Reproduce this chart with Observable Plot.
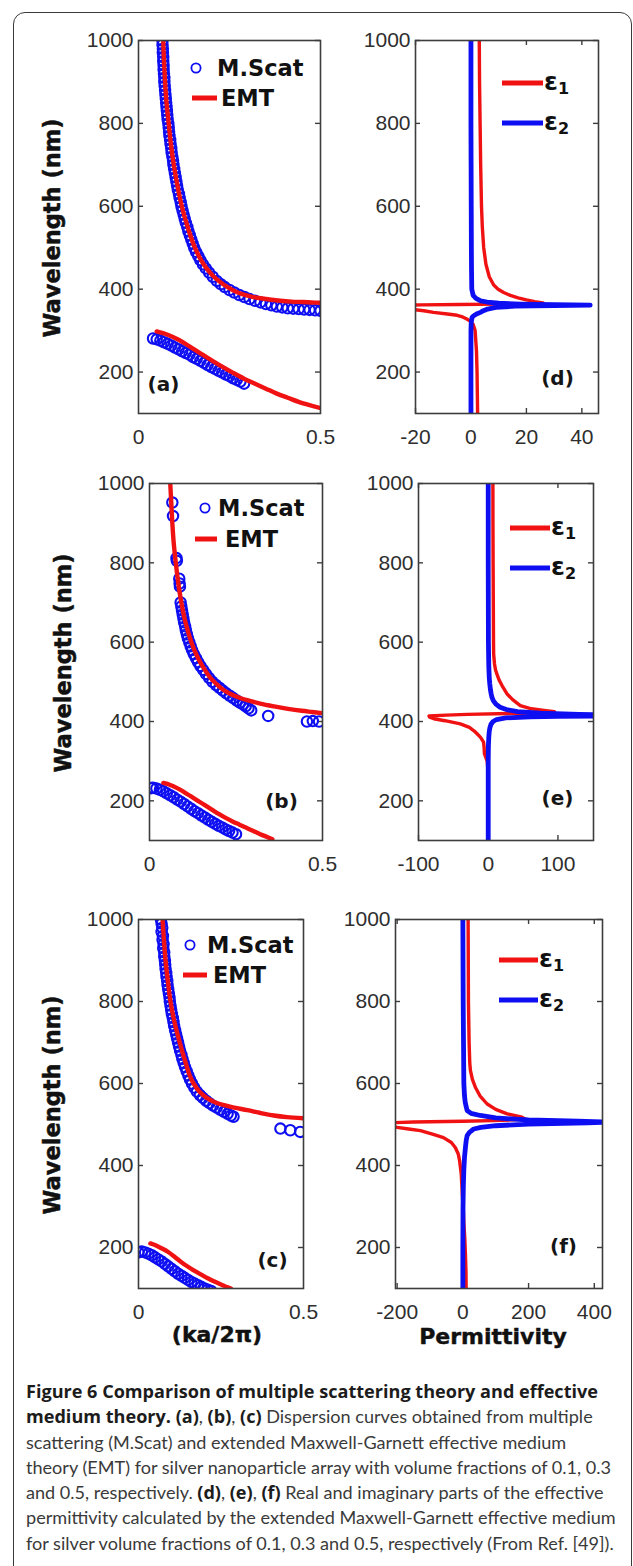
<!DOCTYPE html>
<html>
<head>
<meta charset="utf-8">
<script src="https://cdn.jsdelivr.net/npm/d3@7"></script>
<script src="https://cdn.jsdelivr.net/npm/@observablehq/plot@0.6"></script>
<style>
  html, body { margin: 0; padding: 0; background: #fff; }
  #page { position: relative; width: 633px; height: 1566px; overflow: hidden; background: #fff; }
  .box { position: absolute; left: 13px; top: 12px; width: 619px; height: 1620px;
         border: 1.4px solid #3a3a3a; border-radius: 12px; box-sizing: border-box; }
  .panel { position: absolute; }
  #caption { position: absolute; left: 26px; top: 1379px; font-family: Lato, "Open Sans", sans-serif;
             font-size: 18px; line-height: 25.3px; color: #3a3a3a; }
  #caption .ln { white-space: nowrap; }
  #caption .ln span { display: inline-block; }
  #caption b { color: #1c1c1c; font-weight: 700; font-family: "Open Sans", Lato, sans-serif; }
</style>
</head>
<body>
<div id="page">
  <div class="box"></div>
  <div id="caption">
    <div class="ln"><span><b>Figure 6 Comparison of multiple scattering theory and effective</b></span></div>
    <div class="ln"><span><b>medium theory. (a)</b>, <b>(b)</b>, <b>(c)</b> Dispersion curves obtained from multiple</span></div>
    <div class="ln"><span>scattering (M.Scat) and extended Maxwell-Garnett effective medium</span></div>
    <div class="ln"><span>theory (EMT) for silver nanoparticle array with volume fractions of 0.1, 0.3</span></div>
    <div class="ln"><span>and 0.5, respectively. <b>(d)</b>, <b>(e)</b>, <b>(f)</b> Real and imaginary parts of the effective</span></div>
    <div class="ln"><span>permittivity calculated by the extended Maxwell-Garnett effective medium</span></div>
    <div class="ln"><span>for silver volume fractions of 0.1, 0.3 and 0.5, respectively (From Ref. [49]).</span></div>
  </div>
</div>
<script>
// ---------- tick values ----------
const wlTicks = [200, 400, 600, 800, 1000];
const kTicks = [0, 0.5];
const epsTicksD = [-20, 0, 20, 40];
const epsTicksE = [-100, 0, 100];
const epsTicksF = [-200, 0, 200, 400];

// ---------- dispersion curves: [ka/2pi, wavelength nm] ----------
// volume fraction 0.1
const scatA_upper = [[0.066,1000],[0.066,990],[0.067,980],[0.067,970],[0.068,960],[0.068,950],[0.069,940],[0.069,930],[0.070,920],[0.071,910],[0.071,900],[0.072,890],[0.073,880],[0.074,870],[0.075,860],[0.076,850],[0.077,840],[0.078,830],[0.079,820],[0.080,810],[0.082,800],[0.083,790],[0.084,780],[0.085,770],[0.087,760],[0.088,750],[0.090,740],[0.091,730],[0.093,720],[0.095,710],[0.096,700],[0.098,690],[0.100,680],[0.102,670],[0.104,660],[0.106,650],[0.108,640],[0.111,630],[0.113,620],[0.116,610],[0.118,600],[0.121,590],[0.124,580],[0.127,570],[0.130,560],[0.134,550],[0.137,540],[0.141,530],[0.145,520],[0.149,510],[0.153,500],[0.158,490],[0.164,480],[0.170,470],[0.177,460],[0.185,450],[0.194,440],[0.204,430],[0.215,420],[0.226,412],[0.237,405],[0.250,398],[0.263,392],[0.277,386],[0.291,381],[0.305,376],[0.320,372],[0.335,368],[0.350,364],[0.365,361],[0.380,358],[0.395,356],[0.410,354],[0.425,353],[0.440,352],[0.455,351],[0.470,350],[0.485,349],[0.500,348]];
const emtA_upper = [[0.068,1000],[0.070,950],[0.073,900],[0.077,850],[0.083,800],[0.089,750],[0.097,700],[0.107,650],[0.119,600],[0.135,550],[0.155,500],[0.172,470],[0.187,450],[0.207,430],[0.228,415],[0.245,405],[0.265,395],[0.285,388],[0.310,382],[0.335,378],[0.360,375],[0.390,372],[0.420,370],[0.450,369],[0.475,368],[0.500,367]];
const scatA_lower = [[0.040,281],[0.050,279],[0.060,276],[0.070,272],[0.080,268],[0.090,264],[0.100,259],[0.110,255],[0.120,250],[0.130,246],[0.140,242],[0.150,236],[0.160,232],[0.170,227],[0.180,222],[0.190,217],[0.200,212],[0.210,208],[0.220,203],[0.230,199],[0.240,194],[0.250,190],[0.260,185],[0.270,181],[0.280,177],[0.290,172]];
const emtA_lower = [[0.050,298],[0.080,290],[0.110,278],[0.140,262],[0.170,245],[0.200,229],[0.230,213],[0.260,198],[0.290,184],[0.320,172],[0.350,160],[0.380,148],[0.410,138],[0.440,128],[0.470,120],[0.500,113]];

// volume fraction 0.3
const scatB_upper = [[0.066,952],[0.068,918],[0.078,812],[0.079,805],[0.086,760],[0.087,748],[0.088,740],[0.090,700],[0.092,690],[0.094,680],[0.096,670],[0.098,660],[0.100,650],[0.103,640],[0.105,630],[0.108,620],[0.111,610],[0.115,600],[0.119,590],[0.123,580],[0.128,570],[0.134,560],[0.140,550],[0.147,540],[0.155,530],[0.163,520],[0.172,510],[0.182,500],[0.192,492],[0.202,485],[0.212,478],[0.222,471],[0.232,465],[0.242,459],[0.252,453],[0.261,448],[0.270,443],[0.278,438],[0.286,433],[0.294,428],[0.343,414],[0.455,400],[0.472,401],[0.490,400]];
const emtB_upper = [[0.060,1000],[0.063,950],[0.066,900],[0.070,850],[0.076,800],[0.083,750],[0.092,700],[0.104,650],[0.121,600],[0.140,560],[0.160,530],[0.176,510],[0.193,495],[0.213,480],[0.233,470],[0.260,460],[0.290,452],[0.320,445],[0.360,438],[0.400,432],[0.440,427],[0.470,424],[0.500,421]];
const scatB_lower = [[0.005,232],[0.010,233],[0.020,231],[0.030,228],[0.040,224],[0.050,219],[0.060,214],[0.070,209],[0.080,203],[0.090,198],[0.100,192],[0.110,186],[0.120,180],[0.130,174],[0.140,169],[0.150,163],[0.160,158],[0.170,152],[0.180,147],[0.190,142],[0.200,137],[0.210,133],[0.220,128],[0.230,124],[0.240,120],[0.250,116]];
const emtB_lower = [[0.040,245],[0.060,240],[0.080,232],[0.100,222],[0.120,211],[0.140,200],[0.160,189],[0.180,178],[0.200,167],[0.220,157],[0.240,148],[0.260,140],[0.280,132],[0.300,124],[0.320,116],[0.340,109],[0.355,103]];

// volume fraction 0.5
const scatC_upper = [[0.068,1000],[0.070,990],[0.072,980],[0.070,970],[0.074,960],[0.073,950],[0.076,940],[0.075,930],[0.078,920],[0.078,910],[0.080,900],[0.081,890],[0.082,880],[0.084,870],[0.085,860],[0.087,850],[0.088,840],[0.090,830],[0.092,820],[0.094,810],[0.095,800],[0.097,790],[0.099,780],[0.101,770],[0.104,760],[0.106,750],[0.108,740],[0.111,730],[0.114,720],[0.117,710],[0.120,700],[0.123,690],[0.126,680],[0.130,670],[0.133,660],[0.137,650],[0.141,640],[0.146,630],[0.151,620],[0.156,610],[0.162,600],[0.169,590],[0.177,580],[0.186,572],[0.195,565],[0.205,558],[0.215,552],[0.226,546],[0.237,541],[0.248,536],[0.259,531],[0.270,526],[0.280,522],[0.288,519],[0.430,490],[0.460,486],[0.490,482]];
const emtC_upper = [[0.073,1000],[0.077,950],[0.082,900],[0.089,850],[0.097,800],[0.109,750],[0.125,700],[0.143,650],[0.155,620],[0.167,600],[0.185,580],[0.207,565],[0.230,555],[0.260,547],[0.290,541],[0.330,535],[0.370,528],[0.410,522],[0.450,518],[0.500,515]];
const scatC_lower = [[0.000,188],[0.010,190],[0.020,188],[0.030,185],[0.040,181],[0.050,176],[0.060,171],[0.070,166],[0.080,160],[0.090,154],[0.100,148],[0.110,142],[0.120,136],[0.130,131],[0.140,126],[0.150,121],[0.160,116],[0.170,112],[0.180,108],[0.190,104],[0.200,100],[0.210,97],[0.220,94]];
const emtC_lower = [[0.036,210],[0.050,206],[0.070,198],[0.090,189],[0.110,177],[0.130,164],[0.150,153],[0.170,143],[0.190,134],[0.210,125],[0.230,117],[0.250,110],[0.270,103],[0.280,100]];

// ---------- effective permittivity: [wavelength nm, value] ----------
// volume fraction 0.1
const eps1D = [[1000,3.0],[900,3.1],[800,3.3],[700,3.5],[600,3.8],[550,4.1],[500,4.6],[460,5.4],[430,6.6],[410,8.2],[400,9.8],[392,11.8],[385,14.2],[379,17.0],[374,20.0],[370,23.0],[367,26.0],[365,22],[364,10],[363,-4],[362,-18],[361,-28],[357,-28],[352,-22],[348,-17],[344,-13.5],[340,-8.5],[337,-5],[333,-3],[328,-1.5],[323,-0.3],[315,0.8],[300,1.5],[250,2.0],[200,2.2],[150,2.3],[100,2.4]];
const eps2D = [[1000,0],[900,0],[800,0],[700,0.05],[600,0.1],[500,0.15],[450,0.2],[400,0.3],[385,0.8],[378,1.8],[372,3.5],[369,5.8],[366,10],[364,18],[362.5,30],[361.5,43],[360.5,30],[359,16],[356,9],[352,6],[348,4.5],[344,3.4],[340,2],[336,1],[332,0.4],[320,0.1],[300,0],[200,0],[100,0]];
// volume fraction 0.3
const eps1E = [[1000,6.7],[900,6.8],[800,7.0],[700,7.3],[600,7.6],[570,7.8],[545,9],[530,10.5],[520,12.4],[505,15.5],[490,20],[470,26.8],[455,35],[440,46],[432,62],[428,80],[425,95],[422,80],[420,30],[418,-30],[416,-60],[414,-85],[411,-84],[407,-78],[402,-62],[394,-40],[385,-27],[376,-20],[369,-16],[360,-11],[348,-6.7],[335,-5.9],[319,-5.5],[312,-4],[300,-1.5],[280,-0.5],[200,-0.3],[100,-0.3]];
const eps2E = [[1000,0],[800,0],[600,0.3],[540,0.8],[510,1.5],[495,2.2],[480,3.2],[470,4.2],[461,5.3],[452,7.5],[444,11],[436,17],[430,26],[425,42],[421,75],[418,130],[416,180],[414,170],[413,100],[412,60],[409,25],[405,12],[400,7],[393,4],[385,2.5],[375,1.5],[360,0.8],[340,0.3],[300,0],[100,0]];
// volume fraction 0.5
const eps1F = [[1000,16],[900,16.5],[800,17],[700,19],[650,21],[632,23],[610,29],[591,38],[570,52],[550,74],[537,100],[526,135],[518,180],[513,190],[510,120],[508,0],[506,-150],[504,-230],[500,-240],[496,-215],[493,-200],[489,-165],[485,-129],[476,-90],[468,-59],[456,-35],[444,-23],[428,-14],[412,-10],[380,-5],[350,-3],[320,-1],[300,1],[260,3],[220,6],[180,8],[140,9.5],[100,10]];
const eps2F = [[1000,0],[900,0.5],[800,1],[700,2],[600,3],[570,5],[555,7],[544,10],[534,13],[527,25],[522,53],[516,100],[511,200],[508,350],[506,450],[504,380],[501,200],[497,100],[493,55],[489,33],[481,20],[473,13],[460,10],[445,8],[420,5],[390,3],[350,1.5],[300,0.5],[200,0],[100,0]];

// ---------- drawing ----------
const BLUE = "#0e0ef2";
const RED = "#f01212";
const INK = "#3d3d3d";
const HEAVY = "'DejaVu Sans', Verdana, sans-serif";
const page = document.getElementById("page");

const kw = arr => arr.map(([k, wl]) => ({k, wl}));
const ew = arr => arr.map(([wl, e]) => ({wl, e}));

function frameMarks(fw, fh, xTicks) {
  return [
    Plot.tickY(wlTicks, {y: d => d, insetRight: fw - 5, stroke: INK, strokeWidth: 1.4}),
    Plot.tickY(wlTicks, {y: d => d, insetLeft: fw - 5, stroke: INK, strokeWidth: 1.4}),
    Plot.axisY(wlTicks, {tickSize: 0, tickPadding: 5, label: null, tickFormat: d => String(d)}),
    Plot.axisX(xTicks, {tickSize: 0, tickPadding: 16, label: null, tickFormat: d => String(d)})
  ];
}

function mount(svgBox, node) {
  const div = document.createElement("div");
  div.className = "panel";
  div.style.left = svgBox.left + "px";
  div.style.top = svgBox.top + "px";
  div.appendChild(node);
  page.appendChild(div);
}

function baseOptions(svgBox, f) {
  return {
    width: svgBox.width,
    height: svgBox.height,
    marginLeft: f.l - svgBox.left,
    marginTop: f.t - svgBox.top,
    marginRight: svgBox.left + svgBox.width - f.r,
    marginBottom: svgBox.top + svgBox.height - f.b,
    style: {
      fontFamily: "'Liberation Sans', Arial, sans-serif",
      fontSize: "21px",
      color: "#2e2e2e",
      background: "transparent",
      overflow: "visible"
    }
  };
}

function tagMark(p) {
  return Plot.text([p.tag], {
    text: d => d, frameAnchor: p.tagAnchor, dx: p.tagDx, dy: p.tagDy,
    textAnchor: "middle", lineAnchor: "middle",
    fontFamily: HEAVY, fontWeight: "bold", fontSize: 20, fill: "#151515"
  });
}

function xLabelMark(p) {
  return Plot.text([p.xLabel], {
    text: d => d, frameAnchor: "bottom", dx: p.xLabelDx, dy: p.xLabelDy,
    textAnchor: "middle", lineAnchor: "middle",
    fontFamily: HEAVY, fontWeight: "bold", fontSize: 22, fill: "#111", stroke: "#111", strokeWidth: 0.4
  });
}

function dispersionPanel(p) {
  const f = p.frame, fw = f.r - f.l, fh = f.b - f.t;
  const marks = [
    ...frameMarks(fw, fh, kTicks),
    Plot.dot(kw(p.scatUp), {x: "k", y: "wl", r: 5.2, stroke: BLUE, strokeWidth: 2.1, clip: true}),
    Plot.dot(kw(p.scatLo), {x: "k", y: "wl", r: 5.2, stroke: BLUE, strokeWidth: 2.1, clip: true}),
    Plot.line(kw(p.emtUp), {x: "k", y: "wl", stroke: RED, strokeWidth: 4.4, curve: "catmull-rom", clip: true}),
    Plot.line(kw(p.emtLo), {x: "k", y: "wl", stroke: RED, strokeWidth: 4.4, curve: "catmull-rom", clip: true}),
    Plot.text(["Wavelength (nm)"], {
      text: d => d, frameAnchor: "left", rotate: -90, dx: -86, dy: 1,
      textAnchor: "middle", lineAnchor: "middle",
      fontFamily: HEAVY, fontWeight: "bold", fontSize: 22.5, fill: "#111", stroke: "#111", strokeWidth: 0.5
    }),
    tagMark(p),
    Plot.frame({stroke: INK, strokeWidth: 1.6})
  ];
  if (p.xLabel) marks.push(xLabelMark(p));
  const svg = Plot.plot({
    ...baseOptions(p.svg, f),
    x: {domain: [0, 0.5]},
    y: {domain: [100, 1000]},
    marks
  });
  // legend: marker, line and labels
  const L = p.legend;
  const g = d3.select(svg).append("g")
    .attr("transform", `translate(${f.l - p.svg.left},${f.t - p.svg.top})`)
    .attr("text-anchor", "start")
    .attr("font-family", HEAVY).attr("font-weight", "bold").attr("font-size", 22.5).attr("fill", "#111");
  g.append("circle").attr("cx", L.cx).attr("cy", L.cy).attr("r", 4.6)
    .attr("fill", "none").attr("stroke", BLUE).attr("stroke-width", 1.8);
  g.append("text").attr("x", L.tx).attr("y", L.cy).attr("dy", "0.36em").text("M.Scat");
  g.append("line").attr("x1", L.lx1).attr("x2", L.lx2).attr("y1", L.ly).attr("y2", L.ly)
    .attr("stroke", RED).attr("stroke-width", 5);
  g.append("text").attr("x", L.ex).attr("y", L.ly).attr("dy", "0.36em").text("EMT");
  mount(p.svg, svg);
}

function permittivityPanel(p) {
  const f = p.frame, fw = f.r - f.l, fh = f.b - f.t;
  const marks = [
    Plot.tickX(p.xTicks, {x: d => d, insetTop: fh - 5, stroke: INK, strokeWidth: 1.4}),
    Plot.tickX(p.xTicks, {x: d => d, insetBottom: fh - 5, stroke: INK, strokeWidth: 1.4}),
    ...frameMarks(fw, fh, p.xTicks),
    Plot.line(ew(p.eps1), {x: "e", y: "wl", stroke: RED, strokeWidth: 3.4, clip: true}),
    Plot.line(ew(p.eps2), {x: "e", y: "wl", stroke: BLUE, strokeWidth: 4.8, clip: true}),
    tagMark(p),
    Plot.frame({stroke: INK, strokeWidth: 1.6})
  ];
  if (p.xLabel) marks.push(xLabelMark(p));
  const svg = Plot.plot({
    ...baseOptions(p.svg, f),
    x: {domain: p.xDomain},
    y: {domain: [100, 1000]},
    marks
  });
  const L = p.legend;
  const g = d3.select(svg).append("g")
    .attr("transform", `translate(${f.l - p.svg.left},${f.t - p.svg.top})`)
    .attr("text-anchor", "start")
    .attr("font-family", HEAVY).attr("font-weight", "bold").attr("font-size", 25).attr("fill", "#111");
  [[L.y1, RED, "1"], [L.y2, BLUE, "2"]].forEach(([y, c, sub]) => {
    g.append("line").attr("x1", L.x1).attr("x2", L.x2).attr("y1", y).attr("y2", y)
      .attr("stroke", c).attr("stroke-width", 5);
    const t = g.append("text").attr("x", L.tx).attr("y", y).attr("dy", "0.28em").text("ε");
    t.append("tspan").attr("dy", "0.28em").attr("font-size", 16).text(sub);
  });
  mount(p.svg, svg);
}

const rows = [{top: 15, height: 450}, {top: 465, height: 430}, {top: 895, height: 470}];
const leftCol = {left: 0, width: 345};
const rightCol = {left: 345, width: 288};
const box = (c, r) => ({left: c.left, width: c.width, top: r.top, height: r.height});

dispersionPanel({
  svg: box(leftCol, rows[0]), frame: {l: 138, t: 40, r: 320, b: 413},
  scatUp: scatA_upper, scatLo: scatA_lower, emtUp: emtA_upper, emtLo: emtA_lower,
  tag: "(a)", tagAnchor: "bottom-left", tagDx: 25, tagDy: -29,
  legend: {cx: 58, cy: 28, tx: 79, lx1: 54, lx2: 79, ly: 58, ex: 83}
});
dispersionPanel({
  svg: box(leftCol, rows[1]), frame: {l: 149, t: 483, r: 322, b: 840},
  scatUp: scatB_upper, scatLo: scatB_lower, emtUp: emtB_upper, emtLo: emtB_lower,
  tag: "(b)", tagAnchor: "bottom-right", tagDx: -41, tagDy: -39,
  legend: {cx: 56, cy: 25, tx: 69, lx1: 46, lx2: 68, ly: 56, ex: 76}
});
dispersionPanel({
  svg: box(leftCol, rows[2]), frame: {l: 138, t: 919, r: 303, b: 1288},
  scatUp: scatC_upper, scatLo: scatC_lower, emtUp: emtC_upper, emtLo: emtC_lower,
  tag: "(c)", tagAnchor: "bottom-right", tagDx: -31, tagDy: -28,
  legend: {cx: 52, cy: 26, tx: 69, lx1: 45, lx2: 69, ly: 56, ex: 75},
  xLabel: "(ka/2π)", xLabelDx: -4, xLabelDy: 46
});

permittivityPanel({
  svg: box(rightCol, rows[0]), frame: {l: 415, t: 40, r: 598, b: 413},
  xDomain: [-20, 46], xTicks: epsTicksD, eps1: eps1D, eps2: eps2D,
  tag: "(d)", tagAnchor: "bottom-right", tagDx: -41, tagDy: -35,
  legend: {x1: 87, x2: 128, y1: 43, y2: 83, tx: 129}
});
permittivityPanel({
  svg: box(rightCol, rows[1]), frame: {l: 418, t: 483, r: 593, b: 840},
  xDomain: [-100, 151], xTicks: epsTicksE, eps1: eps1E, eps2: eps2E,
  tag: "(e)", tagAnchor: "bottom-right", tagDx: -36, tagDy: -42,
  legend: {x1: 92, x2: 132, y1: 45, y2: 85, tx: 133}
});
permittivityPanel({
  svg: box(rightCol, rows[2]), frame: {l: 395, t: 919, r: 602, b: 1288},
  xDomain: [-205, 425], xTicks: epsTicksF, eps1: eps1F, eps2: eps2F,
  tag: "(f)", tagAnchor: "bottom-right", tagDx: -39, tagDy: -42,
  legend: {x1: 104, x2: 143, y1: 41, y2: 81, tx: 144},
  xLabel: "Permittivity", xLabelDx: -6, xLabelDy: 48
});

// caption: size the text so the sixth line spans its measured width
const cap = document.getElementById("caption");
const probe = cap.children[5].firstElementChild;
const w = probe.getBoundingClientRect().width;
if (w > 0) cap.style.fontSize = (18 * 590 / w).toFixed(2) + "px";
</script>
</body>
</html>
